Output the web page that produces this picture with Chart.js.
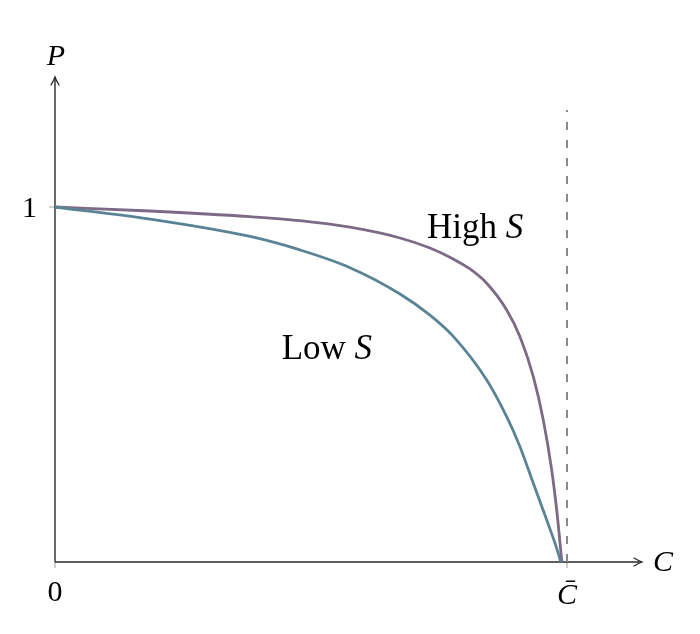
<!DOCTYPE html>
<html>
<head>
<meta charset="utf-8">
<script src="https://cdn.jsdelivr.net/npm/chart.js@4/dist/chart.umd.min.js"></script>
<style>
  html, body { margin: 0; padding: 0; background: #ffffff; }
  #wrap { width: 700px; height: 634px; position: relative; }
</style>
</head>
<body>
<div id="wrap"><canvas id="c"></canvas></div>
<script>
// ---- data ----
const highC = [0, 0.1855, 0.3809, 0.4785, 0.5762, 0.6738, 0.7324, 0.7779, 0.8105, 0.8432, 0.8822, 0.9082, 0.9342, 0.9537, 0.9701, 0.9799, 0.9900];
const highP = [1.0, 0.9887, 0.9727, 0.9614, 0.9430, 0.9127, 0.8845, 0.8535, 0.8254, 0.7851, 0.7099, 0.6346, 0.5220, 0.4000, 0.2592, 0.1465, 0.0];

const lowC = [0, 0.1855, 0.3809, 0.4785, 0.5762, 0.6738, 0.7324, 0.7779, 0.8432, 0.8822, 0.9082, 0.9342, 0.9604, 0.9830, 0.9877];
const lowP = [1.0, 0.9660, 0.9170, 0.8790, 0.8290, 0.7550, 0.6955, 0.6355, 0.5127, 0.4093, 0.3248, 0.2217, 0.1183, 0.0245, 0.0];

const dashC = [1, 1];
const dashP = [0, 1.273];

const xTickValues = [0, 1];
const xTickLabels = ['0', 'C\u0304'];
const yTickValues = [1];
const yTickLabels = ['1'];

const xAxisTitle = 'C';
const yAxisTitle = 'P';
const highLabel = ['High ', 'S'];
const lowLabel = ['Low ', 'S'];

const X_MAX = 1.1465;
const Y_MAX = 1.3662;

const zip = (xs, ys) => xs.map((x, i) => ({ x: x, y: ys[i] }));

const SERIF = '"Liberation Serif", "DejaVu Serif", serif';

const axesPlugin = {
  id: 'axesPlugin',
  beforeDatasetsDraw(chart) {
    const ctx = chart.ctx;
    const xs = chart.scales.x, ys = chart.scales.y;
    const x0 = xs.getPixelForValue(0), y0 = ys.getPixelForValue(0);
    const xEnd = xs.getPixelForValue(X_MAX), yEnd = ys.getPixelForValue(Y_MAX);
    ctx.save();
    // small gray ticks
    ctx.strokeStyle = '#a0a0a0';
    ctx.lineWidth = 1;
    xTickValues.forEach(v => {
      const px = xs.getPixelForValue(v);
      ctx.beginPath(); ctx.moveTo(px, y0); ctx.lineTo(px, y0 + 6); ctx.stroke();
    });
    yTickValues.forEach(v => {
      const py = ys.getPixelForValue(v);
      ctx.beginPath(); ctx.moveTo(x0 - 6, py); ctx.lineTo(x0, py); ctx.stroke();
    });
    // axes
    ctx.strokeStyle = '#2a2a2a';
    ctx.lineWidth = 1.4;
    ctx.beginPath();
    ctx.moveTo(x0, y0); ctx.lineTo(xEnd, y0);
    ctx.moveTo(x0, y0); ctx.lineTo(x0, yEnd);
    ctx.stroke();
    // arrow heads
    ctx.lineWidth = 1.3;
    ctx.lineCap = 'round';
    ctx.beginPath();
    ctx.moveTo(xEnd - 8, y0 - 4); ctx.quadraticCurveTo(xEnd - 3, y0 - 1, xEnd, y0);
    ctx.quadraticCurveTo(xEnd - 3, y0 + 1, xEnd - 8, y0 + 4);
    ctx.moveTo(x0 - 4, yEnd + 8); ctx.quadraticCurveTo(x0 - 1, yEnd + 3, x0, yEnd);
    ctx.quadraticCurveTo(x0 + 1, yEnd + 3, x0 + 4, yEnd + 8);
    ctx.stroke();
    ctx.restore();
  },
  afterDatasetsDraw(chart) {
    const ctx = chart.ctx;
    const xs = chart.scales.x, ys = chart.scales.y;
    const x0 = xs.getPixelForValue(0), y0 = ys.getPixelForValue(0);
    ctx.save();
    ctx.fillStyle = '#000000';
    ctx.textBaseline = 'alphabetic';
    // tick labels
    ctx.textAlign = 'center';
    xTickValues.forEach((v, i) => {
      const px = xs.getPixelForValue(v);
      if (i === 0) {
        ctx.font = '30px ' + SERIF;
        ctx.fillText(xTickLabels[i], px, y0 + 39);
      } else {
        ctx.font = 'italic 30px ' + SERIF;
        ctx.fillText(xTickLabels[i], px, y0 + 42);
      }
    });
    ctx.font = '30px ' + SERIF;
    ctx.textAlign = 'right';
    yTickValues.forEach((v, i) => {
      const py = ys.getPixelForValue(v);
      ctx.fillText(yTickLabels[i], x0 - 18, py + 10);
    });
    // axis titles
    ctx.font = 'italic 30px ' + SERIF;
    ctx.textAlign = 'center';
    ctx.fillText(yAxisTitle, x0 + 1, ys.getPixelForValue(Y_MAX) - 12);
    ctx.textAlign = 'left';
    ctx.fillText(xAxisTitle, xs.getPixelForValue(X_MAX) + 11, y0 + 9);
    // curve labels
    const drawMixed = (parts, xv, yv) => {
      let px = xs.getPixelForValue(xv);
      const py = ys.getPixelForValue(yv);
      ctx.textAlign = 'left';
      ctx.font = '35px ' + SERIF;
      ctx.fillText(parts[0], px, py);
      px += ctx.measureText(parts[0]).width;
      ctx.font = 'italic 35px ' + SERIF;
      ctx.fillText(parts[1], px, py);
    };
    drawMixed(highLabel, 0.7266, 0.9127);
    drawMixed(lowLabel, 0.4428, 0.571);
    ctx.restore();
  }
};

new Chart(document.getElementById('c'), {
  type: 'line',
  data: {
    datasets: [
      {
        label: 'Dashed',
        data: zip(dashC, dashP),
        borderColor: '#8a8a8a',
        borderWidth: 2,
        borderDash: [8, 10],
        pointRadius: 0,
        fill: false
      },
      {
        label: 'Low S',
        data: zip(lowC, lowP),
        borderColor: '#5b8396',
        borderWidth: 2.8,
        pointRadius: 0,
        cubicInterpolationMode: 'monotone',
        fill: false
      },
      {
        label: 'High S',
        data: zip(highC, highP),
        borderColor: '#7c6a86',
        borderWidth: 2.8,
        pointRadius: 0,
        cubicInterpolationMode: 'monotone',
        fill: false
      }
    ]
  },
  options: {
    responsive: true,
    maintainAspectRatio: false,
    animation: false,
    layout: { padding: { left: 55, right: 58, top: 77, bottom: 72 } },
    plugins: { legend: { display: false }, tooltip: { enabled: false } },
    scales: {
      x: { type: 'linear', min: 0, max: X_MAX, display: false },
      y: { type: 'linear', min: 0, max: Y_MAX, display: false }
    }
  },
  plugins: [axesPlugin]
});
</script>
</body>
</html>
